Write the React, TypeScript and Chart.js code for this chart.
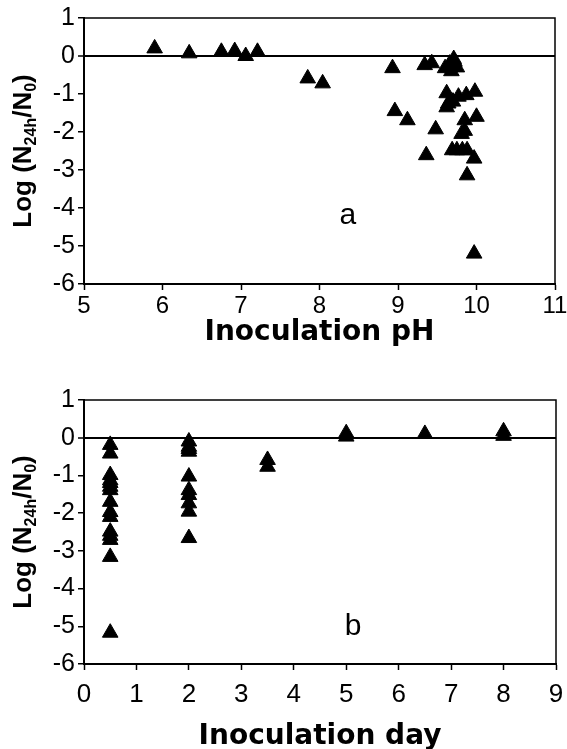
import React, { useEffect, useRef } from "react";
import { Chart, registerables } from "chart.js";

Chart.register(...registerables);

// ---------- data ----------
const phValues = [
  5.9, 6.34, 6.75, 6.92, 7.06, 7.21, 7.85, 8.04, 8.93, 8.96, 9.12, 9.34, 9.43, 9.36, 9.48,
  9.6, 9.66, 9.71, 9.75, 9.68, 9.72, 9.62, 9.64, 9.62, 9.7, 9.77, 9.87, 9.98, 9.85, 10.0,
  9.85, 9.81, 9.69, 9.75, 9.82, 9.88, 9.97, 9.88, 9.97,
];
const phLogRatio = [
  0.2, 0.07, 0.11, 0.13, 0.0, 0.11, -0.59, -0.72, -0.32, -1.45, -1.69, -0.24, -0.19, -2.61, -1.93,
  -0.32, -0.2, -0.08, -0.3, -0.4, -0.15, -0.98, -1.25, -1.35, -1.2, -1.07, -1.03, -0.94, -1.69, -1.6,
  -1.97, -2.05, -2.48, -2.48, -2.48, -2.48, -2.7, -3.14, -5.2,
];

const dayValues = [
  0.5, 0.5, 0.5, 0.5, 0.5, 0.5, 0.5, 0.5, 0.5, 0.5, 0.5, 0.5, 0.5, 0.5, 0.5,
  2, 2, 2, 2, 2, 2, 2, 2, 2, 2,
  3.5, 3.5,
  5, 5,
  6.5,
  8, 8,
];
const dayLogRatio = [
  -0.19, -0.42, -0.99, -1.13, -1.3, -1.39, -1.7, -1.97, -2.1, -2.49, -2.71, -3.16, -5.17, -1.2, -2.6,
  -0.1, -0.24, -0.37, -0.3, -1.03, -1.39, -1.52, -1.74, -1.96, -2.66,
  -0.59, -0.77,
  0.12, 0.03,
  0.1,
  0.17, 0.05,
];

const phAxis = { min: 5, max: 11, step: 1 };
const dayAxis = { min: 0, max: 9, step: 1 };
const yAxis = { min: -6, max: 1, step: 1 };

const yTitleParts = [
  { text: "Log (N", sub: false },
  { text: "24h", sub: true },
  { text: "/N", sub: false },
  { text: "0", sub: true },
  { text: ")", sub: false },
];

const FONT = '"Liberation Sans", Arial, Helvetica, sans-serif';
const TITLE_FONT = '"DejaVu Sans", "Liberation Sans", Arial, sans-serif';

// ---------- plugins ----------
const framePlugin = {
  id: "frameBox",
  afterDatasetsDraw(chart: any) {
    const { ctx, chartArea } = chart;
    ctx.save();
    ctx.strokeStyle = "#000";
    ctx.lineWidth = 1.5;
    ctx.strokeRect(chartArea.left, chartArea.top, chartArea.right - chartArea.left, chartArea.bottom - chartArea.top);
    ctx.restore();
  },
};

const yTitlePlugin = {
  id: "yTitleSub",
  afterDraw(chart: any, _args: any, opts: any) {
    const { ctx, chartArea } = chart;
    const big = `bold 26px ${FONT}`;
    const small = `bold 16px ${FONT}`;
    ctx.save();
    let total = 0;
    const widths = yTitleParts.map((p) => {
      ctx.font = p.sub ? small : big;
      const w = ctx.measureText(p.text).width;
      total += w;
      return w;
    });
    ctx.translate(opts.x, (chartArea.top + chartArea.bottom) / 2);
    ctx.rotate(-Math.PI / 2);
    ctx.fillStyle = "#000";
    ctx.textBaseline = "alphabetic";
    let u = -total / 2;
    yTitleParts.forEach((p, i) => {
      ctx.font = p.sub ? small : big;
      ctx.fillText(p.text, u, p.sub ? 13 : 8);
      u += widths[i];
    });
    ctx.restore();
  },
};

const panelLabelPlugin = {
  id: "panelLabel",
  afterDraw(chart: any, _args: any, opts: any) {
    const { ctx, scales } = chart;
    ctx.save();
    ctx.font = `30px ${FONT}`;
    ctx.fillStyle = "#000";
    ctx.textAlign = "center";
    ctx.textBaseline = "middle";
    ctx.fillText(opts.text, scales.x.getPixelForValue(opts.x), scales.y.getPixelForValue(opts.y));
    ctx.restore();
  },
};

function makeConfig(p: {
  xs: number[];
  ys: number[];
  xr: { min: number; max: number; step: number };
  xTitle: string;
  label: string;
  labelX: number;
  labelY: number;
  padTop: number;
  rightGap: number;
  xHeight: number;
  xTickSize: number;
  xTickPad: number;
  titleSize: number;
  titleLineHeight: number;
  titlePadBottom: number;
}) {
  return {
    type: "scatter" as const,
    data: {
      datasets: [
        {
          data: p.xs.map((x, i) => ({ x, y: p.ys[i] })),
          pointStyle: "triangle",
          pointRadius: 9,
          pointHoverRadius: 9,
          backgroundColor: "#000",
          borderColor: "#000",
          borderWidth: 1,
        },
      ],
    },
    options: {
      responsive: false,
      animation: false as const,
      events: [],
      layout: { padding: { top: p.padTop, right: 0, left: 0, bottom: 0 } },
      plugins: {
        legend: { display: false },
        tooltip: { enabled: false },
        yTitleSub: { x: 23 },
        panelLabel: { text: p.label, x: p.labelX, y: p.labelY },
      },
      scales: {
        x: {
          type: "linear" as const,
          min: p.xr.min,
          max: p.xr.max,
          afterFit: (s: any) => {
            s.height = p.xHeight;
            s.paddingRight = p.rightGap;
          },
          ticks: {
            stepSize: p.xr.step,
            color: "#000",
            padding: p.xTickPad,
            font: { family: FONT, size: p.xTickSize },
            maxRotation: 0,
          },
          grid: { drawOnChartArea: false, tickColor: "#000", tickLength: 6, tickWidth: 1.5 },
          border: { display: true, color: "#000", width: 2 },
          title: {
            display: true,
            text: p.xTitle,
            color: "#000",
            font: { family: TITLE_FONT, size: p.titleSize, weight: "bold" as const, lineHeight: p.titleLineHeight },
            padding: { top: 0, bottom: p.titlePadBottom },
          },
        },
        y: {
          type: "linear" as const,
          min: yAxis.min,
          max: yAxis.max,
          afterFit: (s: any) => {
            s.width = 84;
          },
          ticks: {
            stepSize: yAxis.step,
            color: "#000",
            padding: 3,
            font: { family: FONT, size: 25 },
          },
          grid: {
            drawOnChartArea: true,
            color: (c: any) => (c.tick && c.tick.value === 0 ? "#000" : "rgba(0,0,0,0)"),
            lineWidth: (c: any) => (c.tick && c.tick.value === 0 ? 2 : 1.5),
            tickColor: "#000",
            tickLength: 6,
            tickWidth: 1.5,
          },
          border: { display: true, color: "#000", width: 2 },
        },
      },
    },
    plugins: [framePlugin, yTitlePlugin, panelLabelPlugin],
  };
}

function Panel(props: { top: number; height: number; config: any }) {
  const ref = useRef<HTMLCanvasElement | null>(null);
  useEffect(() => {
    if (!ref.current) return;
    const chart = new Chart(ref.current, props.config);
    return () => chart.destroy();
  }, []);
  return (
    <canvas
      ref={ref}
      width={567}
      height={props.height}
      style={{ position: "absolute", left: 0, top: props.top, width: 567, height: props.height }}
    />
  );
}

export default function App() {
  const configA = makeConfig({
    xs: phValues,
    ys: phLogRatio,
    xr: phAxis,
    xTitle: "Inoculation pH",
    label: "a",
    labelX: 8.36,
    labelY: -4.2,
    padTop: 18,
    rightGap: 12,
    xHeight: 86,
    xTickSize: 24,
    xTickPad: 2,
    titleSize: 28,
    titleLineHeight: 1.2,
    titlePadBottom: 20,
  });
  const configB = makeConfig({
    xs: dayValues,
    ys: dayLogRatio,
    xr: dayAxis,
    xTitle: "Inoculation day",
    label: "b",
    labelX: 5.13,
    labelY: -5.0,
    padTop: 22,
    rightGap: 11,
    xHeight: 85,
    xTickSize: 26,
    xTickPad: 9,
    titleSize: 28,
    titleLineHeight: 0.85,
    titlePadBottom: 0,
  });
  return (
    <div style={{ position: "absolute", left: 0, top: 0, width: 567, height: 749, background: "#fff", overflow: "hidden" }}>
      <Panel top={0} height={370} config={configA} />
      <Panel top={378} height={371} config={configB} />
    </div>
  );
}
